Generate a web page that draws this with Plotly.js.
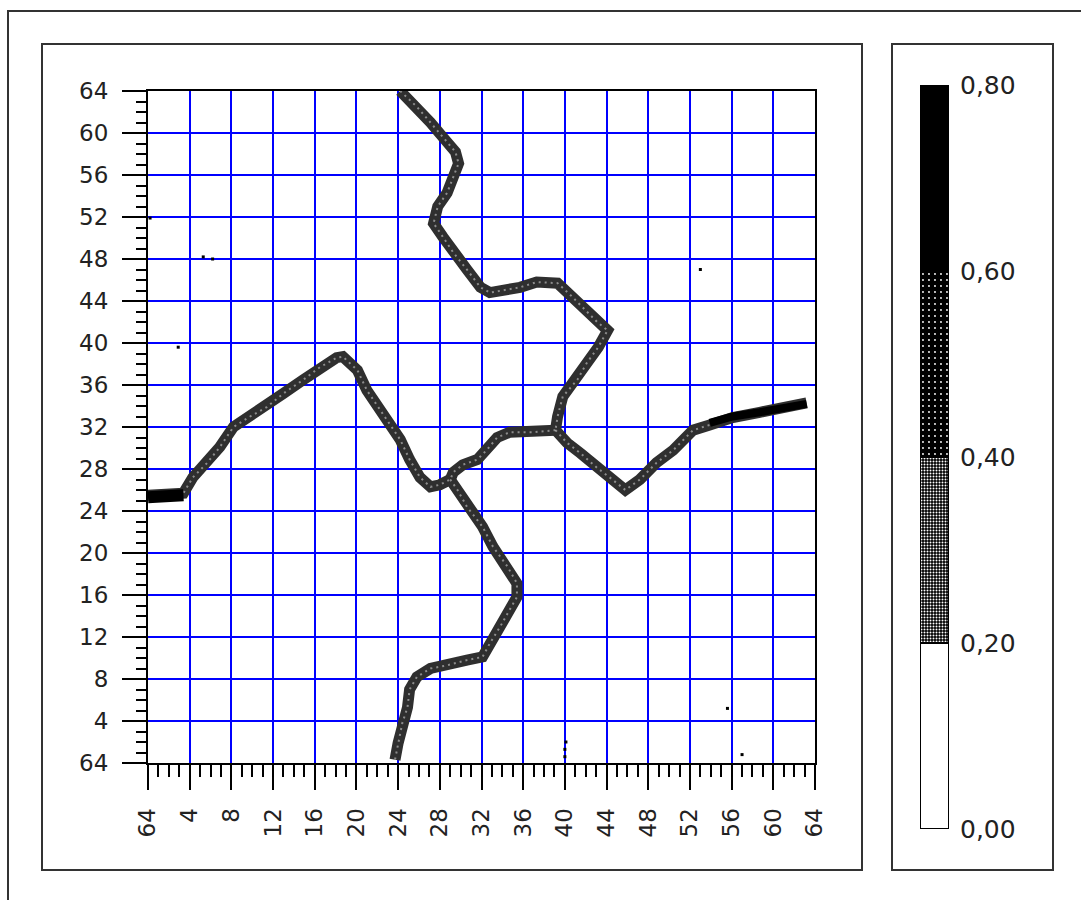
<!DOCTYPE html>
<html>
<head>
<meta charset="utf-8">
<script src="https://cdn.plot.ly/plotly-3.0.1.min.js"></script>
<style>
  html, body { margin: 0; padding: 0; background: #ffffff; }
  #chart { width: 1081px; height: 900px; }
</style>
</head>
<body>
<div id="chart"></div>
<script>
// ---- Data (grid coordinates 0..64) ----
// Tick labels (the original labels both ends "64")
const tickVals = [0, 4, 8, 12, 16, 20, 24, 28, 32, 36, 40, 44, 48, 52, 56, 60, 64];
const tickText = ["64", "4", "8", "12", "16", "20", "24", "28", "32", "36", "40", "44", "48", "52", "56", "60", "64"];

// Ridge from the top edge down to the central junction
const topArmX = [24.2, 25.8, 27.1, 28.3, 29.5, 29.8, 29.2, 28.7, 27.8, 27.4, 28.3, 29.3, 30.6, 31.9, 32.8, 35.7, 37.3, 39.3, 40.5, 41.7, 43.1, 44.1, 43.2, 42.1, 41.2, 39.8, 39.3, 39.1];
const topArmY = [64.0, 62.5, 61.0, 59.6, 58.2, 57.1, 55.5, 54.3, 53.0, 51.4, 50.1, 48.6, 47.0, 45.3, 44.8, 45.3, 45.8, 45.7, 44.6, 43.4, 42.0, 41.2, 39.6, 38.1, 36.5, 34.9, 33.0, 31.7];

// Arc from the central junction to the lower-left junction
const arcX = [39.1, 36.9, 34.7, 33.5, 32.5, 31.6, 30.2, 29.3, 29.0];
const arcY = [31.7, 31.5, 31.5, 31.0, 29.8, 28.9, 28.4, 27.7, 27.0];

// Ridge from the lower-left junction down to the bottom edge
const bottomArmX = [29.0, 29.7, 30.6, 32.1, 33.1, 34.5, 35.4, 35.4, 34.7, 33.8, 32.8, 32.1, 30.6, 28.7, 27.1, 25.8, 25.1, 24.9, 24.4, 24.0, 23.7];
const bottomArmY = [27.0, 26.0, 24.4, 22.5, 20.6, 18.7, 17.1, 15.8, 14.6, 13.0, 11.4, 10.1, 9.8, 9.3, 9.0, 8.2, 7.0, 5.3, 3.8, 1.9, 0.3];

// Ridge from the left edge to the lower-left junction
const leftArmX = [0.0, 3.4, 4.3, 5.7, 6.9, 8.2, 9.8, 11.4, 13.0, 14.9, 16.5, 18.1, 18.7, 20.1, 21.0, 22.3, 24.2, 25.1, 26.1, 27.1, 28.0, 29.0];
const leftArmY = [25.5, 25.7, 27.2, 28.6, 30.1, 32.0, 33.0, 33.9, 35.2, 36.5, 37.7, 38.6, 38.7, 37.4, 35.5, 33.6, 30.8, 28.9, 27.2, 26.3, 26.5, 27.0];

// Ridge from the central junction to the right edge
const rightArmX = [39.1, 40.2, 41.5, 43.1, 44.3, 45.8, 47.2, 48.8, 50.4, 52.3, 53.9, 56.1, 58.7, 61.3, 63.2];
const rightArmY = [31.7, 30.5, 29.5, 28.1, 27.2, 26.0, 27.0, 28.6, 29.8, 31.7, 32.2, 32.9, 33.4, 33.8, 34.3];

// Denser (darker) stretches of the ridges
const denseLeftX = [0.0, 3.4];
const denseLeftY = [25.3, 25.5];
const denseRightX = [53.9, 56.1, 58.7, 61.3, 63.2];
const denseRightY = [32.4, 33.0, 33.4, 33.8, 34.2];

// Isolated specks
const speckX = [0.2, 5.3, 6.2, 2.9, 53.0, 55.6, 57.0, 40.0, 40.0, 40.1];
const speckY = [51.9, 48.2, 48.0, 39.6, 47.0, 5.2, 0.8, 0.6, 1.3, 2.0];

// Colour scale bands
const bandLow = [0.0, 0.2, 0.4, 0.6];
const bandSize = [0.2, 0.2, 0.2, 0.2];
const bandTickVals = [0.0, 0.2, 0.4, 0.6, 0.8];
const bandTickText = ["0,00", "0,20", "0,40", "0,60", "0,80"];

// ---- Plot ----
const W = 1081, H = 900;
const px = v => v / W;
const py = v => 1 - v / H;

function ridge(x, y, color, width, dash) {
  return {
    type: 'scatter', mode: 'lines', x: x, y: y,
    xaxis: 'x', yaxis: 'y',
    line: { color: color, width: width, dash: dash || 'solid' },
    hoverinfo: 'skip', showlegend: false
  };
}

const arms = [
  [topArmX, topArmY], [arcX, arcY], [bottomArmX, bottomArmY],
  [leftArmX, leftArmY], [rightArmX, rightArmY]
];
const traces = [];
arms.forEach(a => traces.push(ridge(a[0], a[1], '#2f2f2f', 11)));
// faint stipple along each ridge
arms.forEach(a => traces.push(ridge(a[0], a[1], 'rgba(255,255,255,0.45)', 2, '2px,4px')));
traces.push(ridge(denseLeftX, denseLeftY, '#000', 12));
traces.push(ridge(denseRightX, denseRightY, '#000', 8));
traces.push({
  type: 'scatter', mode: 'markers', x: speckX, y: speckY,
  xaxis: 'x', yaxis: 'y',
  marker: { symbol: 'square', size: 3, color: '#000' },
  hoverinfo: 'skip', showlegend: false
});

// colour bar as stacked bars with fill patterns
const bandStyles = [
  { color: '#ffffff', pattern: { shape: '' } },
  { color: '#000000', pattern: { shape: '.', bgcolor: '#000000', fgcolor: '#ffffff', size: 3, solidity: 0.35, fillmode: 'replace' } },
  { color: '#000000', pattern: { shape: '.', bgcolor: '#000000', fgcolor: '#ffffff', size: 6, solidity: 0.08, fillmode: 'replace' } },
  { color: '#000000', pattern: { shape: '' } }
];
bandLow.forEach((b, i) => {
  traces.push({
    type: 'bar', x: [0], y: [bandSize[i]], base: [b],
    xaxis: 'x2', yaxis: 'y2', width: 1,
    marker: Object.assign({ line: { color: '#000', width: 2 } }, bandStyles[i]),
    hoverinfo: 'skip', showlegend: false
  });
});

const tickFont = { family: 'DejaVu Sans, sans-serif', size: 23, color: '#222' };
const barFont = { family: 'DejaVu Sans, sans-serif', size: 25, color: '#222' };

const layout = {
  width: W, height: H,
  margin: { l: 0, r: 0, t: 0, b: 0, pad: 0 },
  paper_bgcolor: '#ffffff', plot_bgcolor: '#ffffff',
  showlegend: false,
  barmode: 'overlay',
  xaxis: {
    domain: [px(148), px(815)], range: [0, 64], anchor: 'y',
    tickmode: 'array', tickvals: tickVals, ticktext: tickText, tickangle: -90,
    ticks: 'outside', ticklen: 25, tickwidth: 2, tickcolor: '#000',
    ticklabelstandoff: 9,
    showgrid: true, gridcolor: '#0000ff', gridwidth: 2,
    showline: true, linecolor: '#000', linewidth: 2, mirror: true,
    zeroline: false, tickfont: tickFont,
    minor: { dtick: 1, ticks: 'outside', ticklen: 12, tickwidth: 2, tickcolor: '#000', showgrid: false },
    fixedrange: true
  },
  yaxis: {
    domain: [py(763), py(91)], range: [0, 64], anchor: 'x',
    tickmode: 'array', tickvals: tickVals, ticktext: tickText,
    ticks: 'outside', ticklen: 24, tickwidth: 2, tickcolor: '#000',
    ticklabelstandoff: 9,
    showgrid: true, gridcolor: '#0000ff', gridwidth: 2,
    showline: true, linecolor: '#000', linewidth: 2, mirror: true,
    zeroline: false, tickfont: tickFont,
    minor: { dtick: 1, ticks: 'outside', ticklen: 10, tickwidth: 2, tickcolor: '#000', showgrid: false },
    fixedrange: true
  },
  xaxis2: {
    domain: [px(920), px(949)], range: [-0.5, 0.5], anchor: 'y2',
    showticklabels: false, ticks: '', showgrid: false, zeroline: false, showline: false,
    fixedrange: true
  },
  yaxis2: {
    domain: [py(829), py(85)], range: [0, 0.8], anchor: 'x2', side: 'right',
    tickmode: 'array', tickvals: bandTickVals, ticktext: bandTickText,
    ticks: '', ticklabelstandoff: 10,
    showgrid: false, zeroline: false, showline: false,
    tickfont: barFont, fixedrange: true
  },
  shapes: [
    { type: 'rect', xref: 'paper', yref: 'paper', x0: px(8), x1: 1.02, y0: -0.02, y1: py(11), line: { color: '#333', width: 2 } },
    { type: 'rect', xref: 'paper', yref: 'paper', x0: px(42), x1: px(862), y0: py(870), y1: py(44), line: { color: '#333', width: 2 } },
    { type: 'rect', xref: 'paper', yref: 'paper', x0: px(892), x1: px(1053), y0: py(870), y1: py(44), line: { color: '#333', width: 2 } }
  ]
};

Plotly.newPlot('chart', traces, layout, { staticPlot: true, displayModeBar: false });
</script>
</body>
</html>
